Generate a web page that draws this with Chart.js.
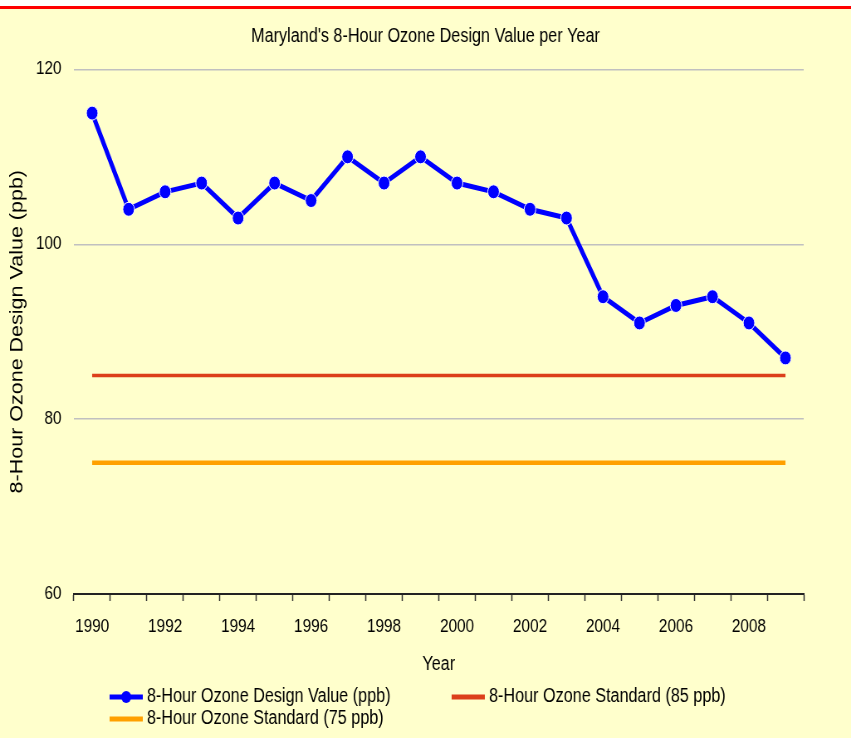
<!DOCTYPE html>
<html>
<head>
<meta charset="utf-8">
<script src="https://cdn.jsdelivr.net/npm/chart.js@4/dist/chart.umd.min.js"></script>
<style>
  html, body { margin: 0; padding: 0; background: #ffffff; }
</style>
</head>
<body>
<!-- drawn wide then squeezed to 851px, the source picture is horizontally compressed -->
<canvas id="ozone" width="1025" height="738" style="display:block;width:851px;height:738px"></canvas>
<script>
const years = ['1990', '1991', '1992', '1993', '1994', '1995', '1996', '1997', '1998', '1999',
    '2000', '2001', '2002', '2003', '2004', '2005', '2006', '2007', '2008', '2009'];
const designValues = [115, 104, 106, 107, 103, 107, 105, 110, 107, 110,
    107, 106, 104, 103, 94, 91, 93, 94, 91, 87];
const standard85 = [85, 85, 85, 85, 85, 85, 85, 85, 85, 85, 85, 85, 85, 85, 85, 85, 85, 85, 85, 85];
const standard75 = [75, 75, 75, 75, 75, 75, 75, 75, 75, 75, 75, 75, 75, 75, 75, 75, 75, 75, 75, 75];
const seriesNames = ['8-Hour Ozone Design Value (ppb)', '8-Hour Ozone Standard (85 ppb)', '8-Hour Ozone Standard (75 ppb)'];
const yTicks = [60, 80, 100, 120];

const FONT = "'Liberation Sans', Arial, sans-serif";

const background = {
    id: 'background',
    beforeDraw(chart) {
        const ctx = chart.ctx;
        ctx.save();
        ctx.fillStyle = '#ffffff';
        ctx.fillRect(0, 0, chart.width, chart.height);
        ctx.fillStyle = '#ffffcc';
        ctx.fillRect(0, 9, chart.width, chart.height - 9);
        ctx.fillStyle = '#ff0000';
        ctx.fillRect(0, 6, chart.width, 3);
        ctx.restore();
    }
};

// legend drawn by hand: items 1 and 3 share a left edge, which the built-in legend can't do
const bottomLegend = {
    id: 'bottomLegend',
    afterDraw(chart) {
        const ctx = chart.ctx;
        const spots = [[132, 697], [544, 697], [132, 719]];
        ctx.save();
        chart.data.datasets.forEach((ds, i) => {
            const [x, y] = spots[i];
            ctx.strokeStyle = ds.borderColor;
            ctx.lineWidth = 5;
            ctx.beginPath();
            ctx.moveTo(x, y);
            ctx.lineTo(x + 40, y);
            ctx.stroke();
            if (ds.pointRadius > 0) {
                ctx.fillStyle = ds.pointBackgroundColor;
                ctx.beginPath();
                ctx.arc(x + 20, y, 6, 0, Math.PI * 2);
                ctx.fill();
            }
            ctx.fillStyle = '#000000';
            ctx.font = '19.5px ' + FONT;
            ctx.textBaseline = 'middle';
            ctx.textAlign = 'left';
            ctx.fillText(ds.label, x + 45, y);
        });
        ctx.restore();
    }
};

const ctx = document.getElementById('ozone').getContext('2d');
new Chart(ctx, {
    type: 'line',
    data: {
        labels: years,
        datasets: [{
            label: seriesNames[0],
            data: designValues,
            borderColor: '#0000ff',
            backgroundColor: '#0000ff',
            borderWidth: 5,
            pointRadius: 7,
            pointBackgroundColor: '#0000ff',
            pointBorderColor: '#ffffff',
            pointBorderWidth: 1,
            tension: 0,
            order: 0
        }, {
            label: seriesNames[1],
            data: standard85,
            borderColor: '#dc3f1a',
            borderWidth: 3.5,
            pointRadius: 0,
            order: 1
        }, {
            label: seriesNames[2],
            data: standard75,
            borderColor: '#ffa000',
            borderWidth: 4.5,
            pointRadius: 0,
            order: 2
        }]
    },
    options: {
        responsive: false,
        devicePixelRatio: 1,
        animation: false,
        layout: { padding: { top: 0, left: 0, right: 0, bottom: 62 } },
        plugins: {
            legend: { display: false },
            tooltip: { enabled: false },
            title: {
                display: true,
                text: "Maryland's 8-Hour Ozone Design Value per Year",
                color: '#000000',
                font: { family: FONT, size: 19.5, weight: 'normal' },
                padding: { top: 25, bottom: 21 }
            }
        },
        scales: {
            x: {
                offset: true,
                grid: {
                    offset: true,
                    drawOnChartArea: false,
                    drawTicks: true,
                    tickLength: 7,
                    tickColor: '#333333',
                    tickWidth: 1.5
                },
                border: { display: true, color: '#222222', width: 2 },
                ticks: {
                    autoSkip: false,
                    maxRotation: 0,
                    padding: 15,
                    color: '#000000',
                    font: { family: FONT, size: 18.5 },
                    callback: (v, i) => (i % 2 === 0 ? years[i] : '')
                },
                title: {
                    display: true,
                    text: 'Year',
                    color: '#000000',
                    font: { family: FONT, size: 19.5 },
                    padding: { top: 0, bottom: 0 }
                },
                afterFit: (scale) => { scale.height = 82; }
            },
            y: {
                min: 60,
                max: 120,
                afterBuildTicks: (scale) => { scale.ticks = yTicks.map(v => ({ value: v })); },
                grid: {
                    color: (c) => (c.tick && c.tick.value === 60 ? 'rgba(0,0,0,0)' : '#c0c0c0'),
                    lineWidth: 1.5,
                    drawTicks: false
                },
                border: { display: false },
                ticks: {
                    padding: 15,
                    color: '#000000',
                    font: { family: FONT, size: 18.5 }
                },
                title: {
                    display: true,
                    text: '8-Hour Ozone Design Value (ppb)',
                    color: '#000000',
                    font: { family: FONT, size: 21.5 },
                    padding: { top: 8, bottom: 0 }
                },
                afterFit: (scale) => { scale.width = 89; }
            },
            // empty right-hand axis, only holds the right margin so the title stays centred on the page
            yRight: {
                position: 'right',
                min: 60,
                max: 120,
                grid: { display: false },
                border: { display: false },
                ticks: { display: false },
                afterFit: (scale) => { scale.width = 57; }
            }
        }
    },
    plugins: [background, bottomLegend]
});
</script>
</body>
</html>
